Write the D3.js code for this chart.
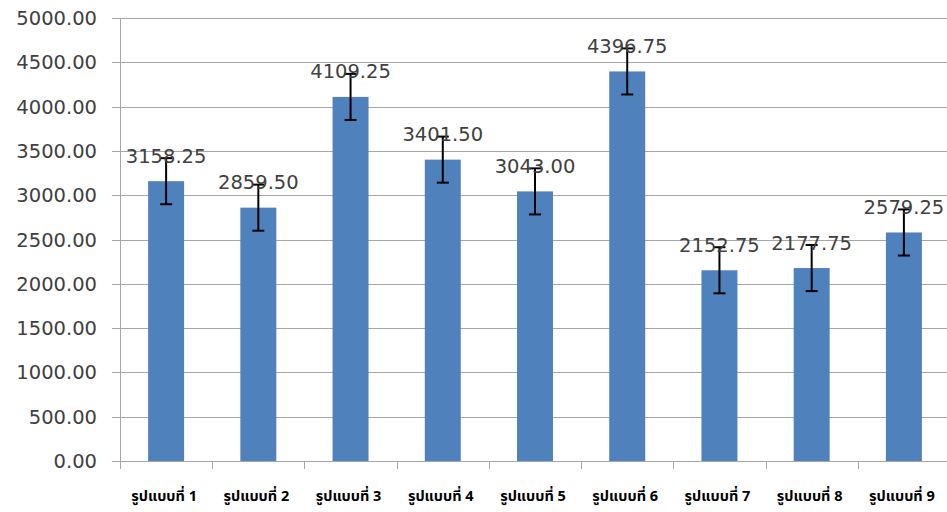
<!DOCTYPE html>
<html><head><meta charset="utf-8">
<script src="https://cdn.jsdelivr.net/npm/d3@7"></script>
<style>body{margin:0;background:#fff}svg{display:block}</style>
</head><body>
<script>
const categories = ["รูปแบบที่ 1","รูปแบบที่ 2","รูปแบบที่ 3","รูปแบบที่ 4","รูปแบบที่ 5","รูปแบบที่ 6","รูปแบบที่ 7","รูปแบบที่ 8","รูปแบบที่ 9"];
const values = [3158.25, 2859.50, 4109.25, 3401.50, 3043.00, 4396.75, 2152.75, 2177.75, 2579.25];
const errors = [260, 260, 260, 260, 260, 260, 260, 260, 260];
const yTicks = [0,500,1000,1500,2000,2500,3000,3500,4000,4500,5000];

const W = 947, H = 512;
const m = {left:120, top:18, right:-3, bottom:51};
const svg = d3.select("body").append("svg").attr("width",W).attr("height",H);
const x = d3.scaleBand().domain(categories).range([m.left, W - m.right]).paddingInner(0.61).paddingOuter(0.305);
const xb = d3.scaleBand().domain(categories).range([m.left, W - m.right]);
const y = d3.scaleLinear().domain([0,5000]).range([H - m.bottom, m.top]);

// gridlines
svg.append("g").selectAll("line").data(yTicks).join("line")
  .attr("x1", m.left - 8).attr("x2", W).attr("y1", d=>Math.round(y(d))+0.5).attr("y2", d=>Math.round(y(d))+0.5)
  .attr("stroke","#a6a6a6").attr("stroke-width",1);
// y labels
svg.append("g").selectAll("text").data(yTicks).join("text")
  .attr("x", 97).attr("y", d=>y(d)).attr("dy","0.36em").attr("text-anchor","end")
  .attr("font-family","DejaVu Sans, sans-serif").attr("font-size",19.5).attr("fill","#404040")
  .text(d=>d3.format(".2f")(d));
// y axis line
svg.append("line").attr("x1",m.left+0.5).attr("x2",m.left+0.5).attr("y1",y(5000)).attr("y2",y(0)+8)
  .attr("stroke","#a6a6a6");
// x ticks
svg.append("g").selectAll("line").data(categories.slice(1)).join("line")
  .attr("x1", d=>Math.round(xb(d))+0.5).attr("x2", d=>Math.round(xb(d))+0.5)
  .attr("y1", y(0)).attr("y2", y(0)+8).attr("stroke","#a6a6a6");
// bars
svg.append("g").selectAll("rect").data(values).join("rect")
  .attr("x",(d,i)=>x(categories[i])).attr("width",x.bandwidth())
  .attr("y",d=>y(d)).attr("height",d=>y(0)-y(d)).attr("fill","#4f81bd");
// error bars
const eg = svg.append("g").attr("stroke","#000").attr("stroke-width",2);
values.forEach((v,i)=>{
  const cx = x(categories[i]) + x.bandwidth()/2;
  eg.append("line").attr("x1",cx).attr("x2",cx).attr("y1",y(v+errors[i])).attr("y2",y(v-errors[i]));
  eg.append("line").attr("x1",cx-6).attr("x2",cx+6).attr("y1",y(v+errors[i])).attr("y2",y(v+errors[i]));
  eg.append("line").attr("x1",cx-6).attr("x2",cx+6).attr("y1",y(v-errors[i])).attr("y2",y(v-errors[i]));
});
// value labels
svg.append("g").selectAll("text").data(values).join("text")
  .attr("x",(d,i)=>x(categories[i]) + x.bandwidth()/2).attr("y",d=>y(d)-18.5)
  .attr("text-anchor","middle").attr("font-family","DejaVu Sans, sans-serif").attr("font-size",19.5)
  .attr("fill","#404040").text(d=>d3.format(".2f")(d));
// x labels
svg.append("g").selectAll("text").data(categories).join("text")
  .attr("x",d=>xb(d)+xb.bandwidth()/2 - 2).attr("y",501)
  .attr("text-anchor","middle").attr("font-family","Tahoma, 'Noto Sans Thai', 'Noto Sans', sans-serif")
  .attr("font-weight","bold").attr("font-size",14.5).attr("fill","#000").text(d=>d);
</script>
</body></html>
